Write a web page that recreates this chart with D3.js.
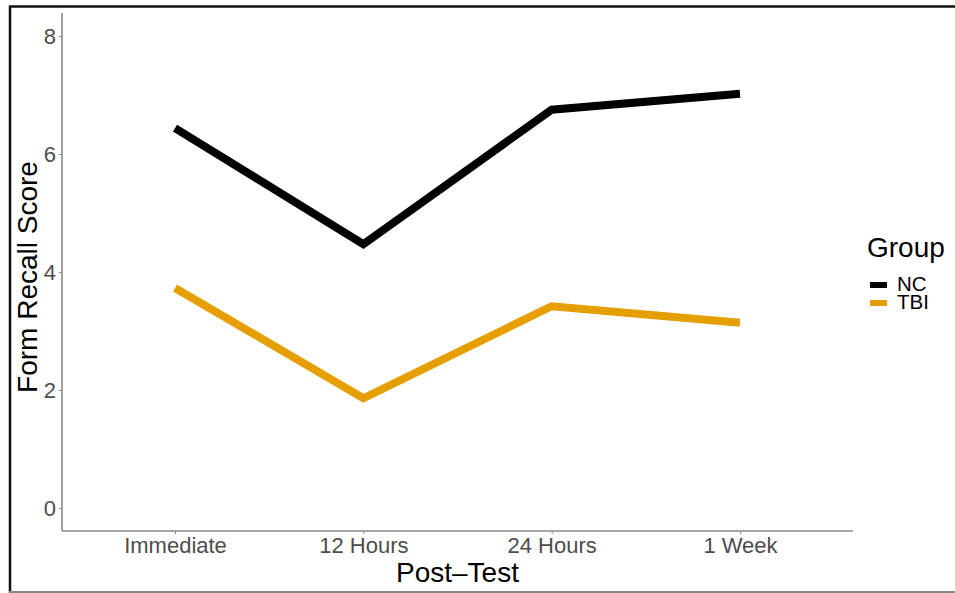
<!DOCTYPE html>
<html><head><meta charset="utf-8">
<script src="https://cdn.jsdelivr.net/npm/d3@7"></script>
<style>body{margin:0;background:#fff}svg{display:block}text{font-family:"Liberation Sans",Arial,sans-serif}</style>
</head><body><svg id="c" width="955" height="593"></svg>
<script>
const categories = ["Immediate","12 Hours","24 Hours","1 Week"];
const groups = ["NC","TBI"];
const ncValues = [6.44, 4.47, 6.75, 7.02];
const tbiValues = [3.73, 1.86, 3.42, 3.14];
const yTicks = [0,2,4,6,8];
const colors = ["#000000","#E69F00"];

const svg = d3.select("#c");
// outer frame
svg.append("line").attr("x1",9).attr("x2",955).attr("y1",6.5).attr("y2",6.5).attr("stroke","#111").attr("stroke-width",2.5);
svg.append("line").attr("x1",10).attr("x2",10).attr("y1",6).attr("y2",593).attr("stroke","#111").attr("stroke-width",2.5);
svg.append("line").attr("x1",9).attr("x2",955).attr("y1",592).attr("y2",592).attr("stroke","#888").attr("stroke-width",2);

const L=62,R=853,T=13,B=531;
const x = d3.scalePoint().domain(categories).range([L,R]).padding(0.6);
const y = d3.scaleLinear().domain([-0.39,8.39]).range([B,T]);

const yAx = svg.append("g").attr("transform",`translate(${L},0)`).call(d3.axisLeft(y).tickValues(yTicks).tickSize(3).tickPadding(3));
const xAx = svg.append("g").attr("transform",`translate(0,${B})`).call(d3.axisBottom(x).tickSize(3).tickPadding(3));
[yAx,xAx].forEach(a=>{
  a.select(".domain").attr("stroke","#8a8a8a").attr("stroke-width",1.6);
  a.selectAll(".tick line").attr("stroke","#8a8a8a").attr("stroke-width",1);
  a.selectAll(".tick text").attr("fill","#4d4d4d").style("font-size","22px").style("font-family","'Liberation Sans',Arial,sans-serif");
});
yAx.selectAll(".tick text").attr("dy","0.36em");
yAx.select(".domain").attr("d",`M0,${T}V${B}`);
xAx.select(".domain").attr("d",`M${L},0H${R}`);

const series = [ncValues, tbiValues];
const line = d3.line().x((d,i)=>x(categories[i])).y(d=>y(d));
series.forEach((s,k)=>{
  svg.append("path").datum(s).attr("d",line).attr("fill","none")
    .attr("stroke",colors[k]).attr("stroke-width",8).attr("stroke-linejoin","miter").attr("stroke-linecap","butt");
});

svg.append("text").attr("x",(L+R)/2).attr("y",582).attr("text-anchor","middle").style("font-size","28px").attr("fill","#000").text("Post\u2013Test");
svg.append("text").attr("transform",`translate(37,277) rotate(-90)`).attr("text-anchor","middle").style("font-size","28px").attr("fill","#000").text("Form Recall Score");

// legend
svg.append("text").attr("x",867).attr("y",257).style("font-size","28px").attr("fill","#000").text("Group");
groups.forEach((g,i)=>{
  const cy = 285 + i*18;
  svg.append("rect").attr("x",870).attr("y",cy-3).attr("width",17).attr("height",6).attr("fill",colors[i]);
  svg.append("text").attr("x",897).attr("y",cy+5.5).style("font-size","20.5px").attr("fill","#000").text(g);
});
</script></body></html>
